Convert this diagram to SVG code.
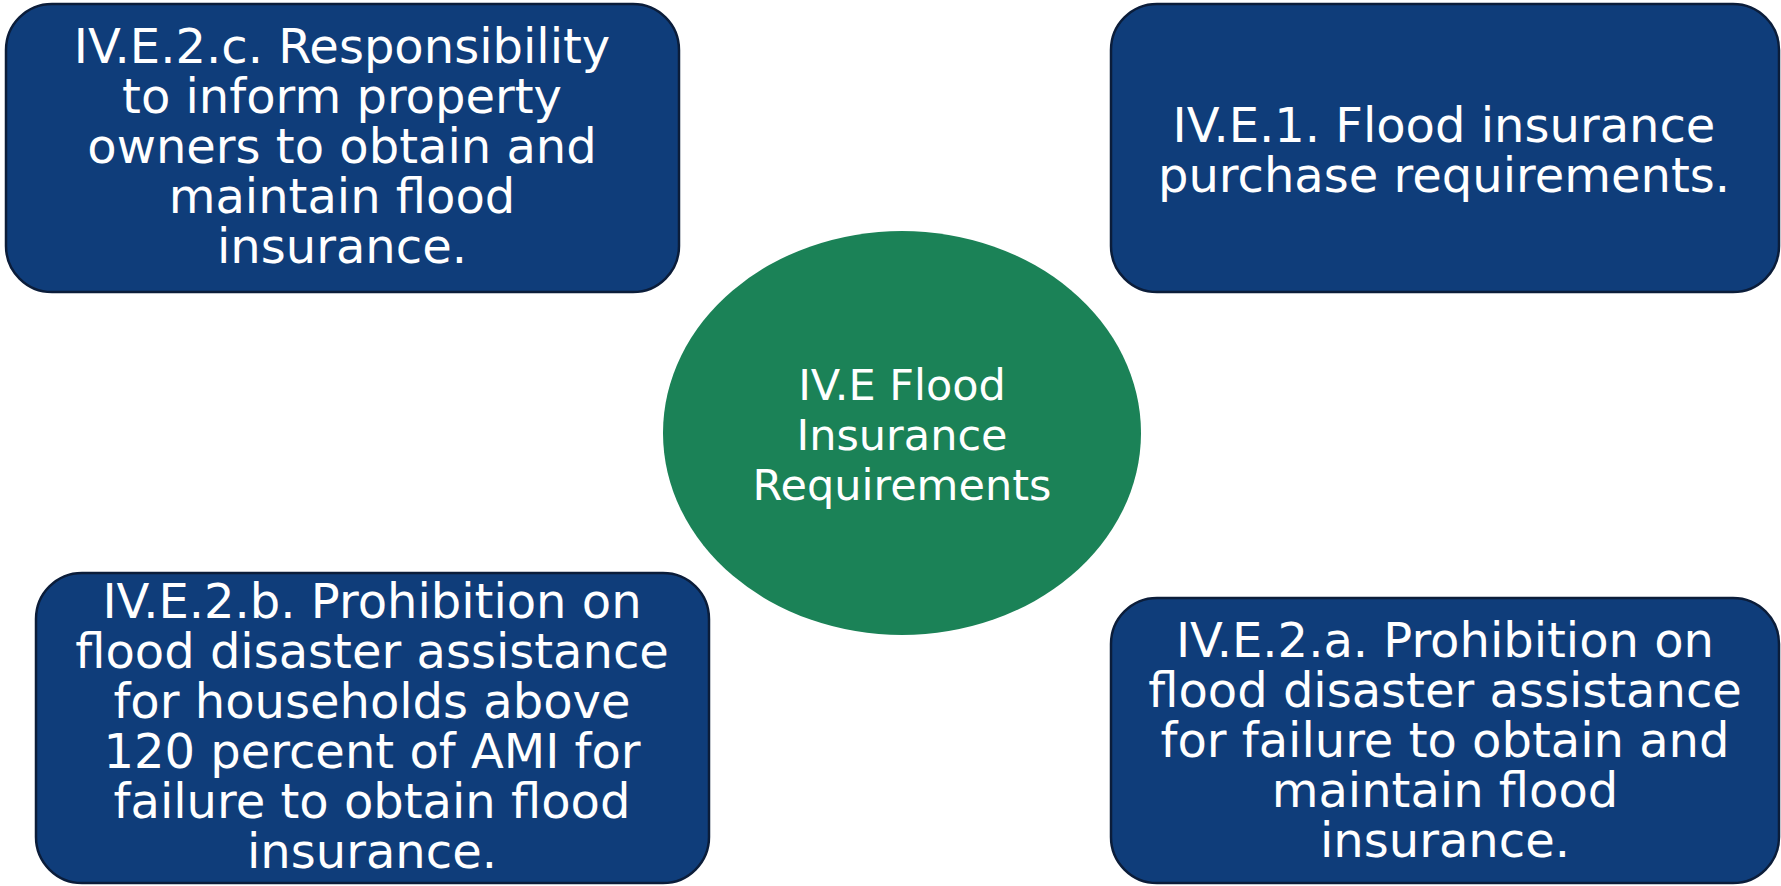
<svg xmlns="http://www.w3.org/2000/svg" width="1781" height="886" viewBox="0 0 1781 886">
<style>
.box{fill:#0F3D7A;stroke:#0B1D3A;stroke-width:2.5}
.t{font-family:"DejaVu Sans",Verdana,sans-serif;font-size:48px;fill:#fff;text-anchor:middle}
.c{font-size:43px}
</style>
<rect width="1781" height="886" fill="#fff"/>
<g id="connectors"></g>
<g id="center">
<ellipse cx="902" cy="433" rx="239" ry="202" fill="#1B8257"/>
<text class="t c"><tspan x="902" y="400">IV.E Flood</tspan><tspan x="902" y="450">Insurance</tspan><tspan x="902" y="500">Requirements</tspan></text>
</g>
<g id="n-2c">
<rect class="box" x="6" y="4" width="673" height="288" rx="46"/>
<text class="t"><tspan x="342" y="63">IV.E.2.c. Responsibility</tspan><tspan x="342" y="113">to inform property</tspan><tspan x="342" y="163">owners to obtain and</tspan><tspan x="342" y="213">maintain flood</tspan><tspan x="342" y="263">insurance.</tspan></text>
</g>
<g id="n-1">
<rect class="box" x="1111" y="4" width="668" height="288" rx="46"/>
<text class="t"><tspan x="1444" y="142">IV.E.1. Flood insurance</tspan><tspan x="1444" y="192">purchase requirements.</tspan></text>
</g>
<g id="n-2b">
<rect class="box" x="36" y="573" width="673" height="310" rx="46"/>
<text class="t"><tspan x="372" y="618">IV.E.2.b. Prohibition on</tspan><tspan x="372" y="668">flood disaster assistance</tspan><tspan x="372" y="718">for households above</tspan><tspan x="372" y="768">120 percent of AMI for</tspan><tspan x="372" y="818">failure to obtain flood</tspan><tspan x="372" y="868">insurance.</tspan></text>
</g>
<g id="n-2a">
<rect class="box" x="1111" y="598" width="668" height="285" rx="46"/>
<text class="t"><tspan x="1445" y="657">IV.E.2.a. Prohibition on</tspan><tspan x="1445" y="707">flood disaster assistance</tspan><tspan x="1445" y="757">for failure to obtain and</tspan><tspan x="1445" y="807">maintain flood</tspan><tspan x="1445" y="857">insurance.</tspan></text>
</g>
</svg>
